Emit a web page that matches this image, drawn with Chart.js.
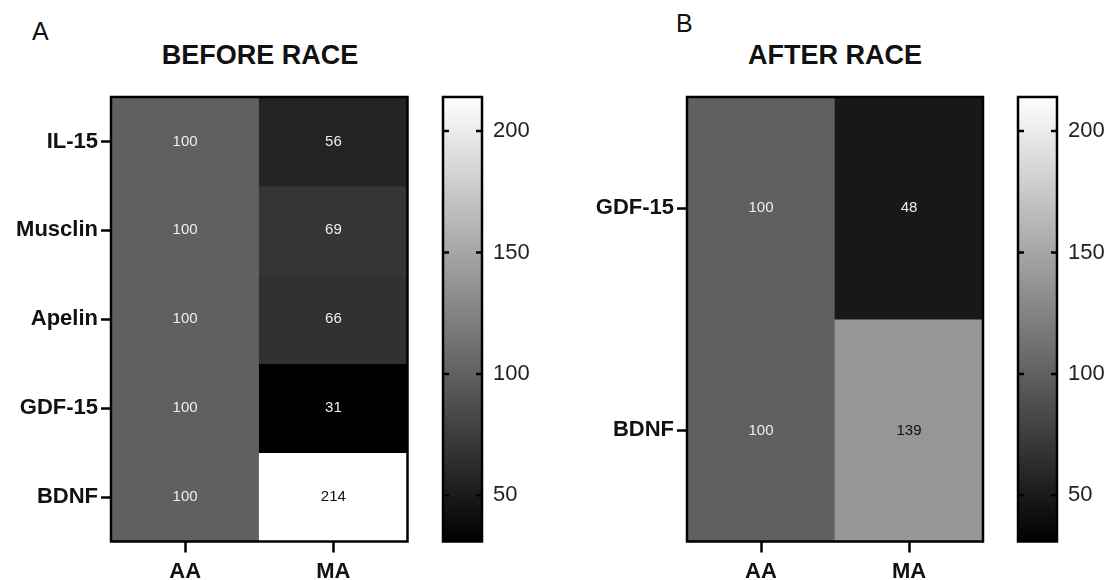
<!DOCTYPE html>
<html>
<head>
<meta charset="utf-8">
<script src="https://cdn.jsdelivr.net/npm/chart.js@4.4.1/dist/chart.umd.min.js"></script>
<style>
  body { margin: 0; background: #fff; }
  #wrap { position: relative; width: 1113px; height: 580px; font-family: "Liberation Sans", Arial, sans-serif; }
  canvas { position: absolute; top: 0; }
  .lbl { position: absolute; color: #111; line-height: 1; white-space: nowrap; }
  .panel { font-size: 25px; }
  .title { font-size: 27px; font-weight: bold; transform: translateX(-50%); }
</style>
</head>
<body>
<div id="wrap">
  <div class="lbl panel" style="left:32px;top:19px">A</div>
  <div class="lbl title" style="left:260px;top:42px">BEFORE RACE</div>
  <div class="lbl panel" style="left:676px;top:11px">B</div>
  <div class="lbl title" style="left:835px;top:42px">AFTER RACE</div>
  <canvas id="heatBefore" width="430" height="580" style="left:0"></canvas>
  <canvas id="barBefore" width="112" height="580" style="left:441px"></canvas>
  <canvas id="heatAfter" width="440" height="580" style="left:560px"></canvas>
  <canvas id="barAfter" width="97" height="580" style="left:1016px"></canvas>
</div>
<script>
const groups = ['AA', 'MA'];

const beforeRows = ['IL-15', 'Musclin', 'Apelin', 'GDF-15', 'BDNF'];
const beforeAA = [100, 100, 100, 100, 100];
const beforeMA = [56, 69, 66, 31, 214];

const afterRows = ['GDF-15', 'BDNF'];
const afterAA = [100, 100];
const afterMA = [48, 139];

// colour scale of both panels
const scaleMin = 31;
const scaleMax = 214;
const scaleTicks = [50, 100, 150, 200];

const FONT = '"Liberation Sans", Arial, sans-serif';

function grey(v) {
    const t = Math.max(0, Math.min(1, (v - scaleMin) / (scaleMax - scaleMin)));
    const c = Math.round(t * 255);
    return `rgb(${c},${c},${c})`;
}

const frame = {
    id: 'frame',
    afterDraw(chart) {
        const { ctx, chartArea: a } = chart;
        ctx.save();
        ctx.strokeStyle = '#000';
        ctx.lineWidth = 2.5;
        ctx.strokeRect(a.left, a.top, a.right - a.left, a.bottom - a.top);
        ctx.restore();
    }
};

const cellLabels = {
    id: 'cellLabels',
    afterDatasetsDraw(chart) {
        const ctx = chart.ctx;
        ctx.save();
        ctx.font = '15px ' + FONT;
        ctx.textAlign = 'center';
        ctx.textBaseline = 'middle';
        chart.data.datasets.forEach((ds, i) => {
            chart.getDatasetMeta(i).data.forEach((bar, j) => {
                const v = ds.values[j];
                ctx.fillStyle = v > 120 ? '#111' : '#eee';
                ctx.fillText(v, bar.x, (bar.y + bar.base) / 2);
            });
        });
        ctx.restore();
    }
};

const innerTicks = {
    id: 'innerTicks',
    afterDraw(chart) {
        const { ctx, chartArea: a } = chart;
        const y = chart.scales.y;
        ctx.save();
        ctx.strokeStyle = '#000';
        ctx.lineWidth = 2.5;
        y.ticks.forEach(t => {
            const p = y.getPixelForValue(t.value);
            ctx.beginPath();
            ctx.moveTo(a.left, p);
            ctx.lineTo(a.left + 6, p);
            ctx.moveTo(a.right - 6, p);
            ctx.lineTo(a.right, p);
            ctx.stroke();
        });
        ctx.restore();
    }
};

function heatmap(id, rows, aa, ma, axisWidth, padRight) {
    return new Chart(document.getElementById(id), {
        type: 'bar',
        data: {
            labels: groups,
            datasets: rows.map((r, i) => ({
                label: r,
                data: groups.map(() => [i - 0.5, i + 0.5]),
                values: [aa[i], ma[i]],
                backgroundColor: [grey(aa[i]), grey(ma[i])],
                borderWidth: 0,
                barPercentage: 1,
                categoryPercentage: 1
            }))
        },
        options: {
            responsive: false,
            animation: false,
            layout: { padding: { top: 97, right: padRight, left: 0, bottom: 0 } },
            plugins: { legend: { display: false }, tooltip: { enabled: false } },
            scales: {
                x: {
                    stacked: true,
                    grid: { offset: false, drawOnChartArea: false, tickLength: 11, tickWidth: 2.5, tickColor: '#000' },
                    border: { display: false },
                    ticks: { color: '#111', padding: 6, font: { family: FONT, size: 22, weight: 'bold' } },
                    afterFit: s => { s.height = 38.5; }
                },
                y: {
                    type: 'linear',
                    reverse: true,
                    stacked: false,
                    min: -0.5,
                    max: rows.length - 0.5,
                    afterBuildTicks: s => { s.ticks = rows.map((_, i) => ({ value: i })); },
                    grid: { drawOnChartArea: false, tickLength: 10, tickWidth: 2.5, tickColor: '#000' },
                    border: { display: false },
                    ticks: {
                        color: '#111', padding: 3,
                        font: { family: FONT, size: 22, weight: 'bold' },
                        callback: v => rows[v]
                    },
                    afterFit: s => { s.width = axisWidth; }
                }
            }
        },
        plugins: [cellLabels, frame]
    });
}

function colorbar(id, axisWidth) {
    return new Chart(document.getElementById(id), {
        type: 'bar',
        data: {
            labels: [''],
            datasets: [{
                data: [[scaleMin, scaleMax]],
                backgroundColor: c => {
                    const chart = c.chart;
                    if (!chart.chartArea) return '#888';
                    const y = chart.scales.y;
                    const g = chart.ctx.createLinearGradient(0, y.getPixelForValue(scaleMin), 0, y.getPixelForValue(scaleMax));
                    g.addColorStop(0, grey(scaleMin));
                    g.addColorStop(1, grey(scaleMax));
                    return g;
                },
                borderWidth: 0,
                barPercentage: 1,
                categoryPercentage: 1
            }]
        },
        options: {
            responsive: false,
            animation: false,
            layout: { padding: { top: 97, bottom: 38.5, left: 2, right: 0 } },
            plugins: { legend: { display: false }, tooltip: { enabled: false } },
            scales: {
                x: { display: false },
                y: {
                    position: 'right',
                    min: scaleMin,
                    max: scaleMax,
                    afterBuildTicks: s => { s.ticks = scaleTicks.map(v => ({ value: v })); },
                    grid: { display: false, drawTicks: false },
                    border: { display: false },
                    ticks: { color: '#222', padding: 11, font: { family: FONT, size: 22 } },
                    afterFit: s => { s.width = axisWidth; }
                }
            }
        },
        plugins: [frame, innerTicks]
    });
}

heatmap('heatBefore', beforeRows, beforeAA, beforeMA, 111, 22.5);
heatmap('heatAfter', afterRows, afterAA, afterMA, 127, 17);
colorbar('barBefore', 71);
colorbar('barAfter', 56);
</script>
</body>
</html>
